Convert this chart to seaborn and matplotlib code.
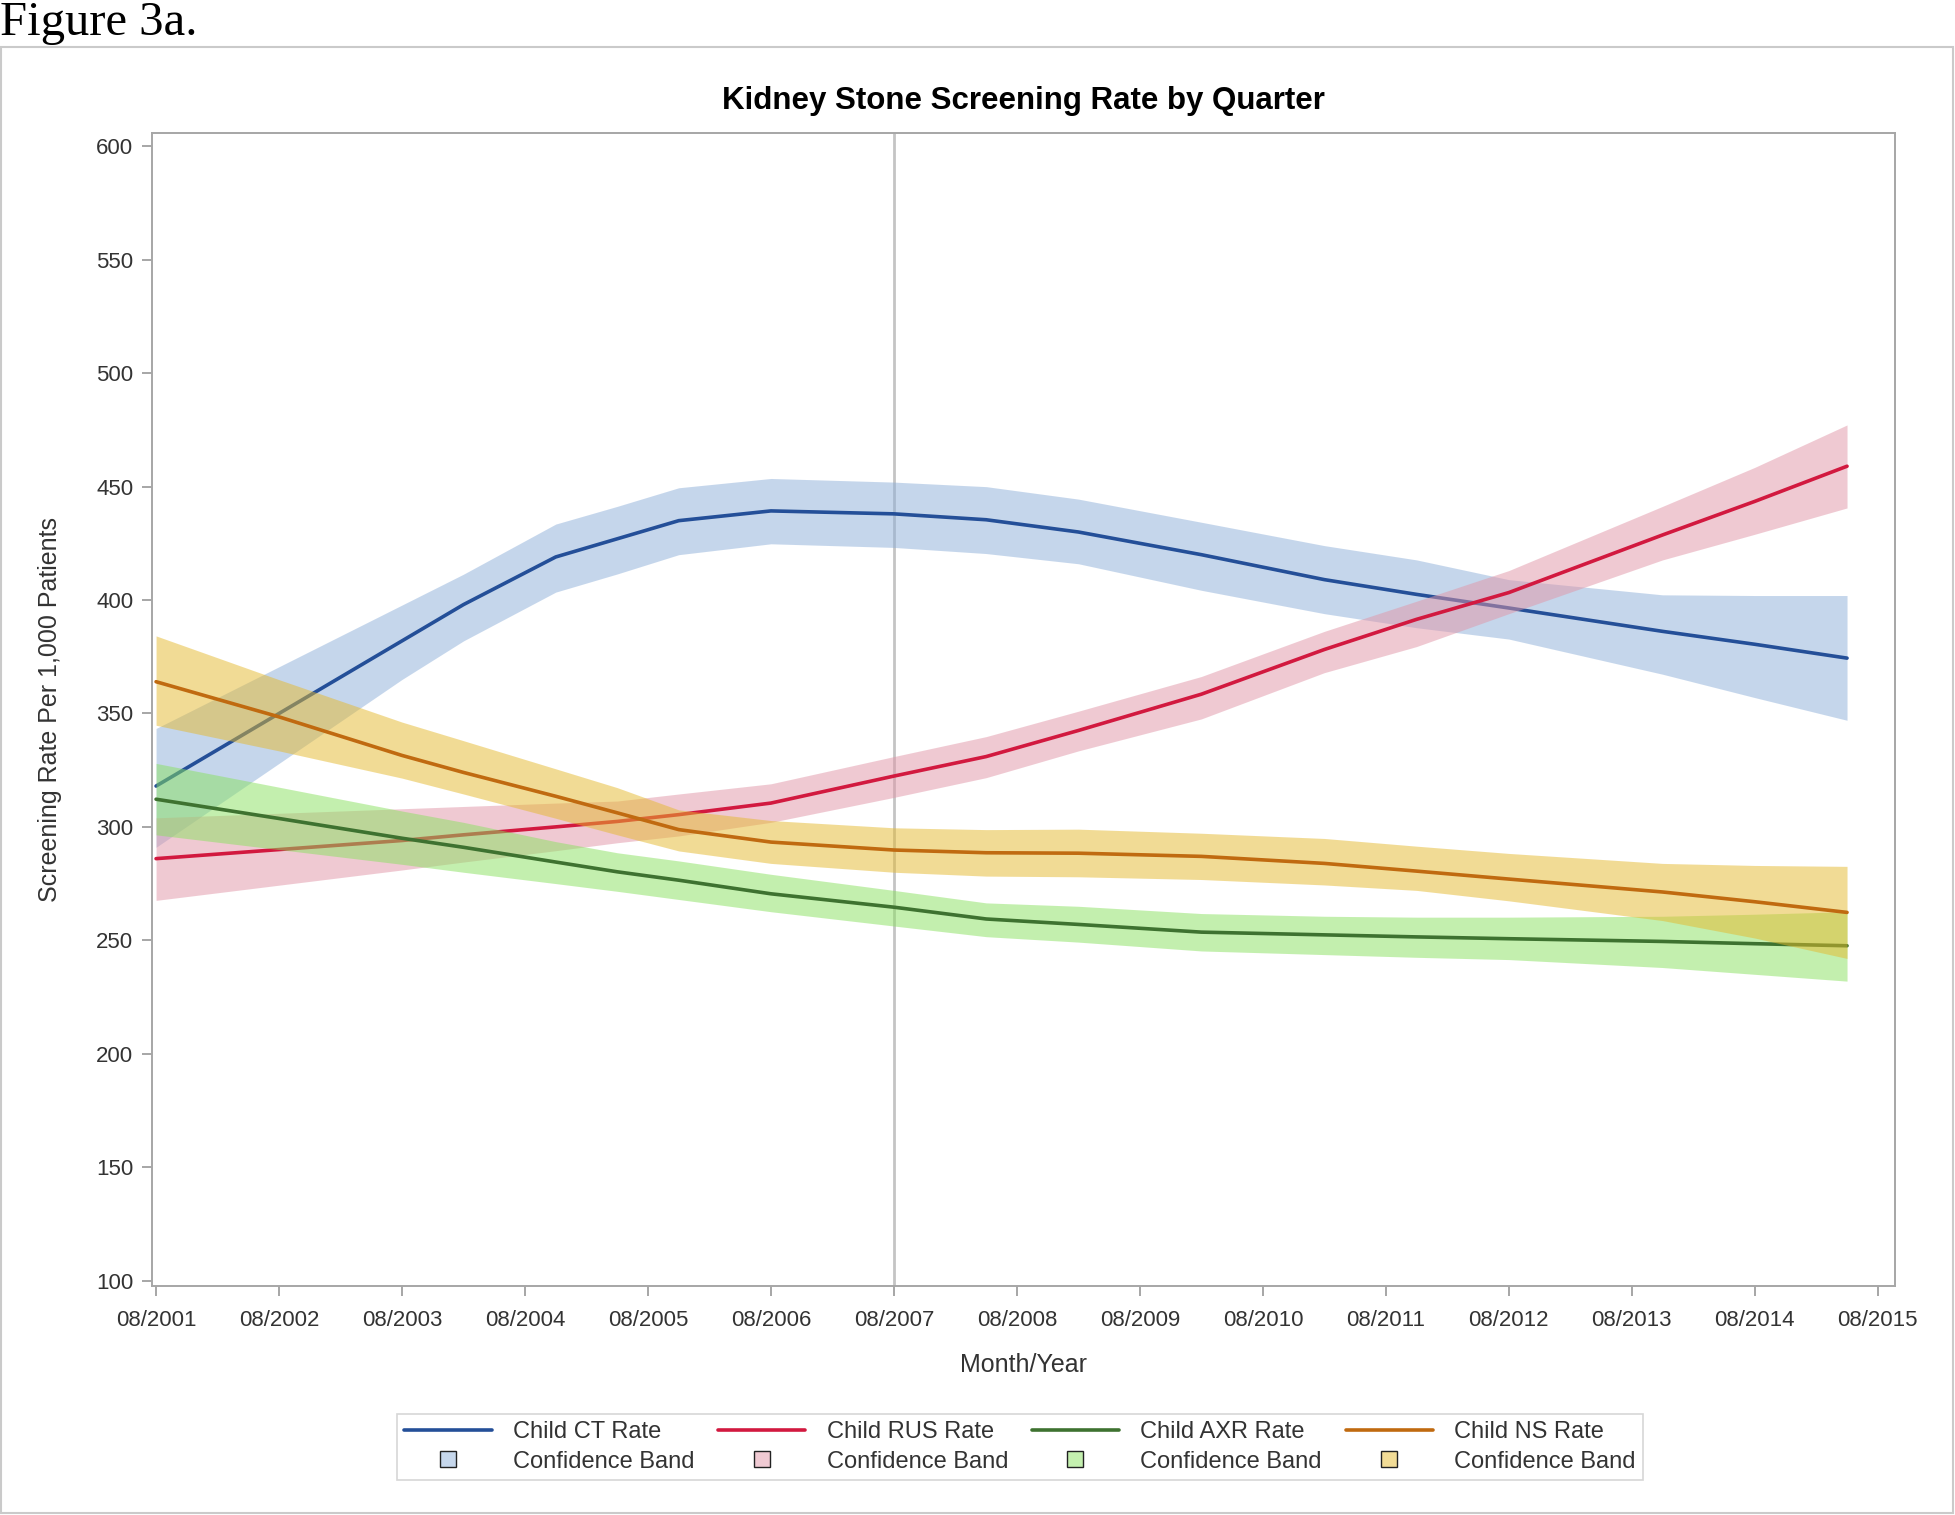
import numpy as np
import pandas as pd
import matplotlib
matplotlib.use("Agg")
import matplotlib.pyplot as plt
import seaborn as sns
from matplotlib.lines import Line2D
from matplotlib.patches import Rectangle

# ---- data (years since 08/2001) ----
years_since_start = [0, 1, 2, 2.5, 3.25, 3.75, 4.25, 5, 6, 6.75, 7.5, 8.5, 9.5, 10.25, 11, 12.25, 13, 13.75]

ct_rate = [318, 350, 382, 398, 419, 427, 435, 439.3, 438, 435.4, 430, 420, 409, 402.5, 396.5, 386.2, 380.5, 374.4]
ct_upper = [343.4, 370.6, 397.8, 411.4, 433.5, 441.3, 449.5, 453.6, 452, 450, 444.5, 434.3, 424, 417.7, 409, 402.3, 402, 402]
ct_lower = [291, 328, 365, 382, 403.5, 411.5, 420, 424.8, 423.2, 420.5, 416, 404.3, 394, 387.8, 382.8, 367.3, 357, 347]

rus_rate = [286, 290, 294, 296.5, 300, 302.4, 305.4, 310.5, 322.4, 331, 342.5, 358.5, 378.2, 391.5, 403.3, 428.7, 443.5, 459]
rus_upper = [304, 306, 308, 309, 310.5, 311.4, 314.5, 319, 331, 339.8, 351, 366.3, 386.2, 399.5, 413, 441.3, 458.5, 477.2]
rus_lower = [267.6, 274.3, 281, 284.5, 289.5, 293, 296, 302, 313, 321.7, 333.5, 347.6, 368, 379.5, 394, 417.7, 429, 440.6]

axr_rate = [312.2, 303.7, 295, 291, 284.5, 280.2, 276.5, 270.5, 264.6, 259.4, 257, 253.6, 252.4, 251.5, 250.7, 249.5, 248.5, 247.6]
axr_upper = [328, 317.5, 307, 302, 293.5, 288.6, 285, 279.1, 272, 266.5, 265, 261.8, 260.6, 260.2, 260.2, 260.6, 261.5, 262.6]
axr_lower = [296.5, 290, 283.5, 280, 275, 271.6, 268, 262.6, 256.3, 251.6, 249.2, 245.3, 243.7, 242.5, 241.5, 238, 235, 232]

ns_rate = [364, 348.5, 331.5, 324, 313.5, 306.2, 298.8, 293.3, 289.8, 288.6, 288.4, 287, 283.9, 280.5, 277, 271.3, 267, 262.3]
ns_upper = [384.2, 364.9, 346.2, 338, 325.6, 317.3, 307.5, 302.8, 299.6, 298.8, 299, 297.2, 294.9, 291.5, 288.3, 283.9, 283, 282.6]
ns_lower = [344.8, 333.5, 321.5, 314.5, 303.8, 296.5, 289.4, 283.9, 280, 278.3, 278, 276.8, 274.4, 272, 267.4, 258.7, 251, 242]

series_names = ["Child CT Rate", "Child RUS Rate", "Child AXR Rate", "Child NS Rate"]
tick_labels = ["08/2001", "08/2002", "08/2003", "08/2004", "08/2005", "08/2006", "08/2007", "08/2008",
               "08/2009", "08/2010", "08/2011", "08/2012", "08/2013", "08/2014", "08/2015"]
y_ticks = [100, 150, 200, 250, 300, 350, 400, 450, 500, 550, 600]
intervention_label = "08/2007"

line_colors = ["#244F98", "#D2193F", "#3E7230", "#C06A10"]
band_colors = ["#8DAFD9", "#E195A7", "#89E15F", "#E5B92D"]

rates = [ct_rate, rus_rate, axr_rate, ns_rate]
uppers = [ct_upper, rus_upper, axr_upper, ns_upper]
lowers = [ct_lower, rus_lower, axr_lower, ns_lower]

df = pd.concat([pd.DataFrame({"t": years_since_start, "rate": r, "lo": lo, "hi": hi, "series": n})
                for r, lo, hi, n in zip(rates, lowers, uppers, series_names)], ignore_index=True)

sns.set_theme(style="white")
plt.rcParams["font.family"] = ["Liberation Sans", "DejaVu Sans"]

fig = plt.figure(figsize=(19.56, 15.15), dpi=100)
ax = fig.add_axes([152 / 1956, 1 - 1286 / 1515, 1743 / 1956, 1153 / 1515])

tick_pos = list(range(len(tick_labels)))
vx = tick_pos[tick_labels.index(intervention_label)]
ax.axvline(vx, color="#C4C4C4", lw=2.0, zorder=1)

for i, name in enumerate(series_names):
    d = df[df["series"] == name]
    ax.fill_between(d["t"], d["lo"], d["hi"], color=band_colors[i], alpha=0.5, lw=0, zorder=2)
    sns.lineplot(data=d, x="t", y="rate", color=line_colors[i], lw=2.6, ax=ax,
                 estimator=None, legend=False, zorder=2)

ax.set_xlim(-0.033, 14.14)
ax.set_ylim(97.6, 605.9)
ax.set_xticks(tick_pos)
ax.set_xticklabels(tick_labels)
ax.set_yticks(y_ticks)

for s in ax.spines.values():
    s.set_color("#A6A6A6")
    s.set_linewidth(1.4)
ax.tick_params(axis="both", which="major", direction="out", length=7.5, width=1.4,
               color="#A6A6A6", labelsize=16, labelcolor="#333333", pad=6,
               left=True, bottom=True, top=False, right=False)
ax.tick_params(axis="x", pad=9.5)

ax.set_xlabel("Month/Year", fontsize=18, color="#333333")
ax.set_ylabel("Screening Rate Per 1,000 Patients", fontsize=18, color="#333333")
ax.xaxis.label.set_va("center")
ax.xaxis.set_label_coords(0.5, -(1365 - 1286) / 1153)
ax.yaxis.label.set_va("center")
ax.yaxis.set_label_coords((50 - 152) / 1743, 0.5)

ax.set_title("Kidney Stone Screening Rate by Quarter", fontsize=22.5, fontweight="bold",
             color="black", pad=17)

# legend
handles, labels = [], []
for i, name in enumerate(series_names):
    handles.append(Line2D([], [], color=line_colors[i], lw=2.6))
    labels.append(name)
    c = np.array(matplotlib.colors.to_rgb(band_colors[i]))
    handles.append(Line2D([], [], marker="s", linestyle="none", markersize=11,
                          markerfacecolor=tuple(0.5 * c + 0.5), markeredgecolor="#222222",
                          markeredgewidth=1.0))
    labels.append("Confidence Band")

leg = fig.legend(handles, labels, ncol=4, loc="center", bbox_to_anchor=(1020 / 1956, 1 - 1447 / 1515),
                 fontsize=17, frameon=True, fancybox=False, edgecolor="#CCCCCC",
                 handlelength=3.7, handletextpad=0.9, columnspacing=1.0,
                 labelspacing=0.3, borderpad=0.3)
leg.get_frame().set_linewidth(1.2)
for t in leg.get_texts():
    t.set_color("#333333")

# outer frame & figure label
fig.patches.append(Rectangle((0.0005, 1 - 1513 / 1515), 1952 / 1956, (1513 - 47) / 1515,
                             transform=fig.transFigure, fill=False, edgecolor="#CACACA", lw=1.5))
fig.text(0.0, 1 - 35 / 1515, "Figure 3a.", fontsize=35, family=["Liberation Serif", "DejaVu Serif"],
         ha="left", va="baseline", color="black")

fig.savefig("out.png", dpi=100, facecolor="white")
